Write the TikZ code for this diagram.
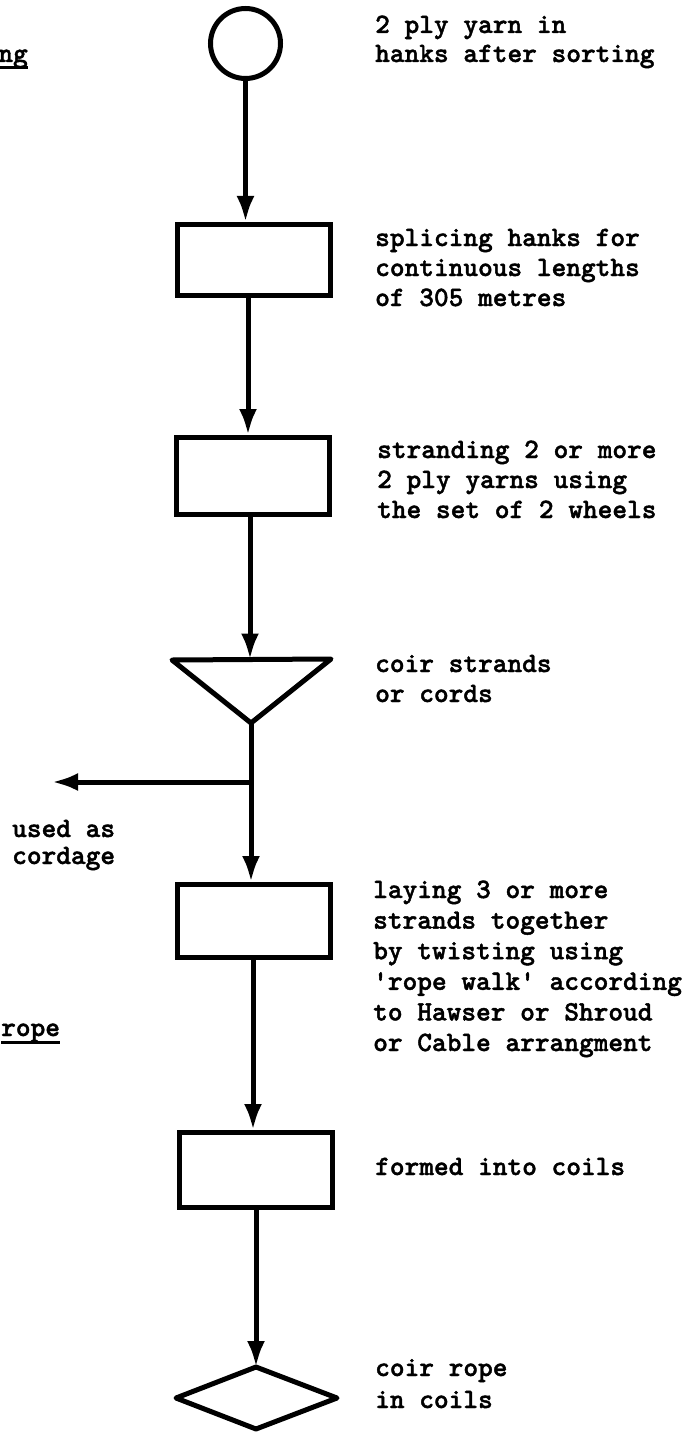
\documentclass[tikz,border=0pt]{standalone}
\usepackage{fontspec}
\usetikzlibrary{arrows.meta}
\newfontfamily\twfont{lmmonolt10-bold.otf}[FakeBold=1.5]
\newcommand\typewr{\twfont\fontsize{28}{30}\selectfont}
\begin{document}
\begin{tikzpicture}[x=1pt,y=-1pt,
  flow/.style={line width=5pt},
  arr/.style={flow,-{Latex[length=26pt,width=18pt]}},
  procbox/.style={draw,line width=5pt,rectangle,inner sep=0pt,minimum width=153pt,minimum height=74pt},
  startnode/.style={draw,line width=5pt,circle,inner sep=0pt,minimum size=70pt},
  % anchored at the baseline of the last line
  note/.style={font=\typewr,align=left,anchor=base west,inner sep=0pt},
  uline/.style={line width=3pt}
]
\useasboundingbox (0,0) rectangle (697,1434);

% process symbols
\node[startnode] (yarn) at (245.5,43.5) {};
\node[procbox,minimum height=71pt] (splice) at (253.5,260) {};
\node[procbox,minimum height=77pt] (strand) at (252.5,476) {};
\coordinate (triL) at (172,660);
\coordinate (triR) at (331,659);
\coordinate (triT) at (250,659.5);
\coordinate (triB) at (251,723);
\draw[flow,line join=round] (triL) -- (triR) -- (triB) -- cycle;
\node[procbox,minimum height=73pt] (lay) at (254,921) {};
\node[procbox,minimum height=75pt] (coil) at (255.5,1170) {};
\coordinate (dT) at (256,1367);
\coordinate (dL) at (176,1398);
\coordinate (dR) at (337,1398);
\coordinate (dB) at (256,1429);
\draw[flow,line join=round] (dT) -- (dR) -- (dB) -- (dL) -- cycle;

% connectors
\coordinate (fork) at (251,782);
\coordinate (cordEnd) at (52,782);
\draw[arr] (yarn.south) -- (yarn.south |- splice.north);
\draw[arr] ([xshift=-5.5pt]splice.south) -- ([xshift=-5.5pt]splice.south |- strand.north);
\draw[arr] (strand.south -| triT) -- (triT);
\draw[flow] (triB) -- (fork);
\draw[arr] (fork) -- (cordEnd);
\draw[arr] (fork) -- (fork |- lay.north);
\draw[arr] ([xshift=-1pt]lay.south) -- ([xshift=-1pt]lay.south |- coil.north);
\draw[arr] (coil.south -| dT) -- (dT);

% descriptions
\node[note,font=\twfont\fontsize{28}{29}\selectfont] (tYarn) at (375,62) {2 ply yarn in\\hanks after sorting};
\node[note] (tSplice) at (375,306) {splicing hanks for\\continuous lengths\\of 305 metres};
\node[note] (tStrand) at (377,518) {stranding 2 or more\\2 ply yarns using\\the set of 2 wheels};
\node[note] (tCord) at (375,702) {coir strands\\or cords};
\node[note,font=\twfont\fontsize{28}{30.6}\selectfont] (tLay) at (373,1051) {laying 3 or more\\strands together\\by twisting using\\\textquotesingle rope walk\textquotesingle{} according\\to Hawser or Shroud\\or Cable arrangment};
\node[note] (tCoil) at (375,1175) {formed into coils};
\node[note,font=\twfont\fontsize{28}{32}\selectfont] (tRope) at (375,1408) {coir rope\\in coils};
\node[note,font=\twfont\fontsize{28}{27}\selectfont] (tUsed) at (12,864) {used as\\cordage};

% headings at the left edge
\node[font=\typewr,anchor=base east,inner sep=0pt] (hTop) at (28,62) {ng};
\draw[uline] ([yshift=-6pt]hTop.base west) -- ([yshift=-6pt]hTop.base east);
\node[font=\typewr,anchor=base west,inner sep=0pt] (hRope) at (1,1036) {rope};
\draw[uline] ([yshift=-6pt]hRope.base west) -- ([yshift=-6pt]hRope.base east);
\end{tikzpicture}
\end{document}
